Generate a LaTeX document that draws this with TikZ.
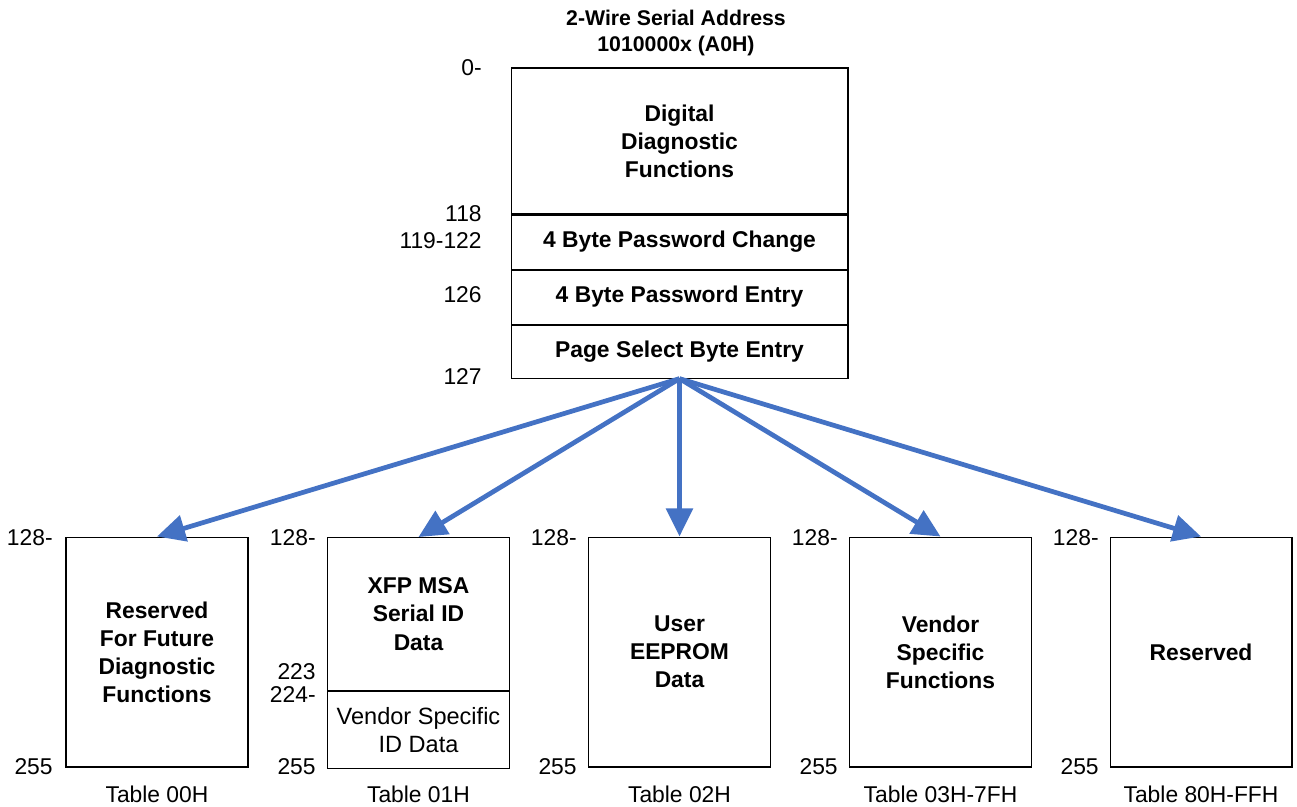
\documentclass[tikz,border=0pt]{standalone}
\usepackage{fontspec}
\setmainfont{Liberation Sans}
\usetikzlibrary{arrows.meta}
\definecolor{arrowblue}{RGB}{68,114,196}
\tikzset{
  membox/.style = {draw, line width=0.6pt, inner sep=0pt, align=center,
                   font=\fontsize{13}{16}\selectfont\bfseries},
  topbox/.style = {membox, minimum width=6.74cm},
  tabbox/.style = {membox, minimum width=3.64cm, minimum height=4.6cm},
  addr/.style   = {anchor=east, inner sep=0pt, font=\fontsize{13}{16}\selectfont},
  tabname/.style= {inner sep=0pt, font=\fontsize{13}{16}\selectfont},
  pagearrow/.style = {draw=arrowblue, line width=2.7pt,
                      -{Triangle[length=16pt,width=15pt]}}
}
\begin{document}
\begin{tikzpicture}[x=0.02cm, y=-0.02cm] % 1 unit = 1 pixel of the sketch
\useasboundingbox (0,0) rectangle (1297,806);
%%
%% lower page A0H
\node [inner sep=0pt, align=center, font=\fontsize{12.1}{14.7}\selectfont\bfseries]
      (title) at (676,33) {2-Wire Serial Address\\1010000x (A0H)};
\node [topbox, minimum height=2.92cm] (ddf) at (679.5,141) {Digital\\Diagnostic\\Functions};
\node [topbox, minimum height=1.08cm, anchor=north] (pwc) at (ddf.south) {4 Byte Password Change};
\node [topbox, minimum height=1.08cm, anchor=north] (pwe) at (pwc.south) {4 Byte Password Entry};
\node [topbox, minimum height=1.06cm, anchor=north] (pse) at (pwe.south) {Page Select Byte Entry};
%% addresses
\node [addr] (a0)   at (482,68)  {0-};
\node [addr] (a118) at (482,214) {118};
\node [addr] (a119) at (482,241) {119-122};
\node [addr] (a126) at (482,295) {126};
\node [addr] (a127) at (482,377) {127};
%%
%% upper pages (tables)
\node [tabbox] (t00) at (157,652)   {Reserved\\For Future\\Diagnostic\\Functions};
\node [tabbox, minimum height=3.06cm, anchor=north] (t01) at (418.5,537) {XFP MSA\\Serial ID\\Data};
\node [membox, minimum width=3.64cm, minimum height=1.54cm, anchor=north, font=\fontsize{13.4}{16}\selectfont]
      (t01v) at (t01.south) {Vendor Specific\\ID Data};
\node [tabbox] (t02) at (679.5,652) {User\\EEPROM\\Data};
\node [tabbox] (t03) at (940.5,652) {Vendor\\Specific\\Functions};
\node [tabbox] (t80) at (1201,652)  {Reserved};
%% addresses
\foreach \nm/\xx in {t00/53, t01v/316, t02/577, t03/838, t80/1099}{
  \node [addr] (\nm-a128) at (\xx,538) {128-};
  \node [addr] (\nm-a255) at (\xx,767) {255};
}
\node [addr] (a223) at (316,672) {223};
\node [addr] (a224) at (316,695) {224-};
%% table names
\node [tabname] (n00) at (157,794)   {Table 00H};
\node [tabname] (n01) at (418.5,794) {Table 01H};
\node [tabname] (n02) at (679.5,794) {Table 02H};
\node [tabname] (n03) at (940.5,794) {Table 03H-7FH};
\node [tabname] (n80) at (1201,794)  {Table 80H-FFH};
%%
%% page select arrows
\foreach \tb in {t00, t01, t02, t03, t80}
  \draw [pagearrow] (pse.south) -- (\tb.north);
%%
\end{tikzpicture}
\end{document}
